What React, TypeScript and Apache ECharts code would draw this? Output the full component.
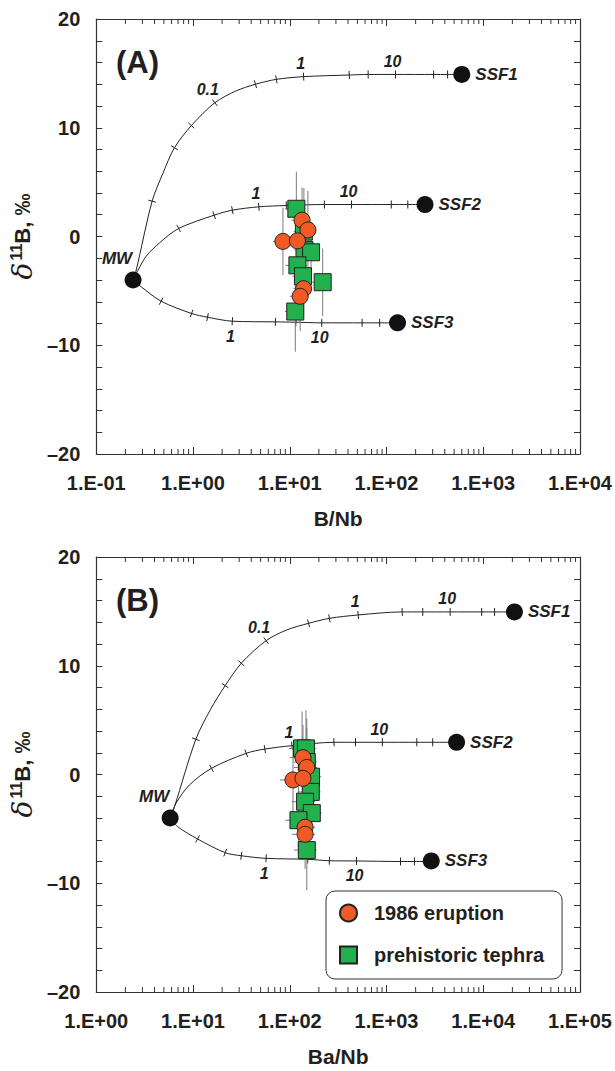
import React, { useEffect, useRef } from "react";
import * as echarts from "echarts";

const FONT = '"Liberation Sans", Arial, Helvetica, sans-serif';
const INK = "#231f20";
const ORANGE = "#f15a24";
const GREEN = "#22b14c";
const ERR = "#7a7a7a";

// ---------- Panel A : B/Nb ----------
const A_MW: number[] = [0.24, -4];
const A_SSF: number[][] = [[600, 14.9], [250, 2.94], [130, -7.94]];
const A_CURVE1: number[][] = [[0.24, -4], [0.257, -3.2], [0.378, 3.25], [0.488, 5.8], [0.643, 8.16], [0.961, 10.2], [1.68, 12.3], [2.76, 13.37], [4.42, 14.0], [7.27, 14.45], [13.9, 14.7], [41.2, 14.85], [64.6, 14.9], [124, 14.9], [307, 14.9], [428, 14.9], [600, 14.9]];
const A_TICKS1: number[] = [2, 4, 5, 6, 8, 9, 10, 11, 12, 13, 14, 15];
const A_LABELS1: string[] = ["", "", "", "0.1", "", "", "1", "", "", "10", "", ""];
const A_CURVE2: number[][] = [[0.24, -4], [0.27, -3.1], [0.328, -1.81], [0.451, -0.58], [0.711, 0.74], [1.654, 1.96], [2.55, 2.42], [4.79, 2.73], [9.21, 2.85], [22.8, 2.94], [43.5, 2.94], [112, 2.94], [166, 2.94], [250, 2.94]];
const A_TICKS2: number[] = [4, 5, 6, 7, 8, 9, 10, 11, 12];
const A_LABELS2: string[] = ["", "", "", "1", "", "", "10", "", ""];
const A_CURVE3: number[][] = [[0.24, -4], [0.292, -4.63], [0.468, -5.95], [0.967, -7.08], [1.413, -7.42], [2.55, -7.79], [7.1, -7.85], [11.58, -7.88], [21.4, -7.94], [56, -7.94], [84.9, -7.94], [130, -7.94]];
const A_TICKS3: number[] = [2, 3, 4, 5, 6, 7, 8, 9, 10];
const A_LABELS3: string[] = ["", "", "", "1", "", "", "10", "", ""];
// [x, y, xErr, yErr]
const A_1986: number[][] = [[13.4, 1.5, 3.0, 3.0], [15.4, 0.6, 3.2, 3.6], [8.5, -0.45, 1.8, 3.1], [12.0, -0.4, 2.6, 2.0], [13.9, -4.8, 3.0, 2.5], [12.8, -5.5, 2.8, 3.2]];
const A_PREHIST: number[][] = [[11.7, 2.55, 2.8, 3.4], [14.0, 0.45, 3.0, 4.0], [14.2, -1.25, 3.0, 2.0], [16.6, -1.45, 3.5, 2.0], [12.0, -2.65, 3.0, 2.2], [13.7, -3.65, 3.0, 2.0], [21.9, -4.2, 5.0, 3.1], [11.4, -6.9, 2.5, 3.7]];

// ---------- Panel B : Ba/Nb ----------
const B_MW: number[] = [5.8, -4];
const B_SSF: number[][] = [[21000, 14.95], [5300, 2.96], [2900, -7.95]];
const B_CURVE1: number[][] = [[5.8, -4], [6.43, -2.96], [10.7, 3.24], [15.2, 6.0], [21.5, 8.17], [31.55, 10.23], [56.96, 12.31], [93.5, 13.3], [156.4, 13.9], [256.8, 14.36], [509.9, 14.67], [1453, 14.95], [2370, 14.95], [4550, 14.95], [9630, 14.95], [13090, 14.95], [21000, 14.95]];
const B_TICKS1: number[] = [2, 4, 5, 6, 8, 9, 10, 11, 12, 13, 14, 15];
const B_LABELS1: string[] = ["", "", "", "0.1", "", "", "1", "", "", "10", "", ""];
const B_CURVE2: number[][] = [[5.8, -4], [6.67, -2.65], [9.16, -0.97], [15.52, 0.57], [35.5, 1.95], [55.25, 2.34], [105.3, 2.65], [286.3, 2.96], [478, 2.96], [906, 2.96], [2056, 2.96], [3002, 2.96], [5300, 2.96]];
const B_TICKS2: number[] = [3, 4, 5, 6, 7, 8, 9, 10, 11];
const B_LABELS2: string[] = ["", "", "", "1", "", "", "10", "", ""];
const B_CURVE3: number[][] = [[5.8, -4], [6.95, -4.8], [11.15, -5.93], [21.5, -7.19], [31.55, -7.47], [56.96, -7.71], [153.8, -7.8], [256.8, -7.93], [489.8, -7.95], [1396, -8], [1943, -8], [2900, -8]];
const B_TICKS3: number[] = [2, 3, 4, 5, 6, 7, 8, 9, 10];
const B_LABELS3: string[] = ["", "", "", "1", "", "", "10", "", ""];
const B_1986: number[][] = [[137, 1.55, 37, 3.0], [150, 0.65, 40, 3.6], [108, -0.5, 29, 3.1], [137, -0.35, 37, 2.0], [144, -4.85, 39, 2.5], [144, -5.5, 39, 3.2]];
const B_PREHIST: number[][] = [[134, 2.4, 36, 3.4], [147, 2.4, 40, 3.5], [150, 1.15, 40, 4.0], [166, -0.2, 45, 2.0], [165, -1.6, 44, 2.0], [144, -2.5, 39, 2.2], [169, -3.55, 45, 2.0], [123, -4.2, 33, 3.1], [150, -6.95, 40, 3.7]];

const END_NAMES: string[] = ["MW", "SSF1", "SSF2", "SSF3"];
const MINOR_STEPS: number[] = [2, 3, 4, 5, 6, 7, 8, 9];
const A_DECADES: number[] = [0.1, 1, 10, 100, 1000];
const B_DECADES: number[] = [1, 10, 100, 1000, 10000];
const Y_MIN = -20;
const Y_MAX = 20;

const LEGEND_1986 = "1986 eruption";
const LEGEND_PRE = "prehistoric tephra";

function expLabel(v: number) {
  const e = Math.round(Math.log10(v));
  const s = e < 0 ? "-" : "+";
  const a = Math.abs(e);
  return "1.E" + s + (a < 10 ? "0" + a : "" + a);
}

function curveLine(curve: number[][], ax: number) {
  return {
    type: "line", xAxisIndex: ax, yAxisIndex: ax, data: curve, showSymbol: false, symbol: "none",
    smooth: 0.3, lineStyle: { color: "#222", width: 1 }, z: 2, silent: true,
  };
}

function curveTicks(curve: number[][], ticks: number[], labels: string[], ax: number, below: boolean) {
  return {
    type: "custom", xAxisIndex: ax, yAxisIndex: ax, z: 3, silent: true, clip: false,
    data: ticks.map((i) => curve[i]),
    renderItem: (params: any, api: any) => {
      const idx = ticks[params.dataIndex];
      const p = api.coord([api.value(0), api.value(1)]);
      const a = api.coord(curve[Math.max(0, idx - 1)]);
      const b = api.coord(curve[Math.min(curve.length - 1, idx + 1)]);
      const dx = b[0] - a[0];
      const dy = b[1] - a[1];
      const len = Math.hypot(dx, dy) || 1;
      const nx = -dy / len;
      const ny = dx / len;
      const h = 4;
      const children: any[] = [{
        type: "line",
        shape: { x1: p[0] - nx * h, y1: p[1] - ny * h, x2: p[0] + nx * h, y2: p[1] + ny * h },
        style: { stroke: "#222", lineWidth: 1 },
      }];
      const lab = labels[params.dataIndex];
      if (lab) {
        let off = below ? [-2, 15] : [-3, -13];
        if (lab === "0.1") off = [-7, -13];
        children.push({
          type: "text", x: p[0] + off[0], y: p[1] + off[1],
          style: { text: lab, fontFamily: FONT, fontSize: 16, fontWeight: "bold", fontStyle: "italic", fill: INK, align: "center", verticalAlign: "middle" },
        });
      }
      return { type: "group", children };
    },
  };
}

function minorAxisTicks(decades: number[], ax: number) {
  const vals: number[][] = [];
  decades.forEach((d) => MINOR_STEPS.forEach((s) => vals.push([s * d])));
  return {
    type: "custom", xAxisIndex: ax, yAxisIndex: ax, z: 1, silent: true, clip: false,
    data: vals,
    renderItem: (params: any, api: any) => {
      const x = api.value(0);
      const pb = api.coord([x, Y_MIN]);
      const pt = api.coord([x, Y_MAX]);
      const st = { stroke: "#333", lineWidth: 1 };
      return {
        type: "group",
        children: [
          { type: "line", shape: { x1: pb[0], y1: pb[1], x2: pb[0], y2: pb[1] - 5 }, style: st },
          { type: "line", shape: { x1: pt[0], y1: pt[1], x2: pt[0], y2: pt[1] + 5 }, style: st },
        ],
      };
    },
  };
}

function errorBars(pts: number[][], ax: number) {
  return {
    type: "custom", xAxisIndex: ax, yAxisIndex: ax, z: 3, silent: true,
    data: pts,
    renderItem: (params: any, api: any) => {
      const x = api.value(0), y = api.value(1), xe = api.value(2), ye = api.value(3);
      const l = api.coord([x - xe, y]);
      const r = api.coord([x + xe, y]);
      const t = api.coord([x, y + ye]);
      const b = api.coord([x, y - ye]);
      const st = { stroke: ERR, lineWidth: 1 };
      return {
        type: "group",
        children: [
          { type: "line", shape: { x1: l[0], y1: l[1], x2: r[0], y2: r[1] }, style: st },
          { type: "line", shape: { x1: t[0], y1: t[1], x2: b[0], y2: b[1] }, style: st },
        ],
      };
    },
  };
}

function samples(name: string, pts: number[][], ax: number, square: boolean) {
  return {
    type: "scatter", name, xAxisIndex: ax, yAxisIndex: ax, z: square ? 4 : 5,
    symbol: square ? "rect" : "circle", symbolSize: square ? 17 : 16,
    data: pts.map((p) => [p[0], p[1]]),
    itemStyle: { color: square ? GREEN : ORANGE, borderColor: "#222", borderWidth: 1, opacity: 1 },
  };
}

function endMembers(mw: number[], ssf: number[][], ax: number) {
  const pts = [mw, ...ssf];
  const base = { show: true, formatter: (p: any) => p.name, fontFamily: FONT, fontSize: 17, fontWeight: "bold", fontStyle: "italic", color: INK };
  return {
    type: "scatter", xAxisIndex: ax, yAxisIndex: ax, z: 6, symbol: "circle", symbolSize: 17, silent: true,
    itemStyle: { color: "#111", opacity: 1 },
    data: pts.map((p, i) => ({
      value: p, name: END_NAMES[i],
      label: i === 0
        ? { ...base, position: "top", distance: 5, offset: [-16, 0] }
        : { ...base, position: "right", distance: 5 },
    })),
    label: base,
  };
}

function xAxes(min: number, max: number, grid: number, name: string) {
  const line = { show: true, onZero: false, lineStyle: { color: "#333", width: 1.2 } };
  return [
    {
      type: "log", logBase: 10, gridIndex: grid, min, max, splitNumber: 5, position: "bottom",
      axisLine: line, axisTick: { show: true, inside: true, length: 7, lineStyle: { color: "#333" } },
      splitLine: { show: false },
      axisLabel: { formatter: expLabel, fontFamily: FONT, fontSize: 20, fontWeight: "bold", color: INK, margin: 19, showMinLabel: true, showMaxLabel: true },
      name, nameLocation: "middle", nameGap: 54,
      nameTextStyle: { fontFamily: FONT, fontSize: 21, fontWeight: "bold", color: INK },
    },
    {
      type: "log", logBase: 10, gridIndex: grid, min, max, splitNumber: 5, position: "top",
      axisLine: line, axisTick: { show: true, inside: true, length: 7, lineStyle: { color: "#333" } },
      splitLine: { show: false }, axisLabel: { show: false },
    },
  ];
}

function yAxes(grid: number) {
  const line = { show: true, onZero: false, lineStyle: { color: "#333", width: 1.2 } };
  const tick = { show: true, inside: true, length: 6, lineStyle: { color: "#333" } };
  const minor = { show: true, splitNumber: 5, length: 6, lineStyle: { color: "#333" } };
  return [
    {
      type: "value", gridIndex: grid, min: Y_MIN, max: Y_MAX, interval: 10, position: "left",
      axisLine: line, axisTick: tick, minorTick: minor, splitLine: { show: false }, minorSplitLine: { show: false },
      axisLabel: {
        formatter: (v: number) => (v < 0 ? "\u2013" + Math.abs(v) : "" + v),
        fontFamily: FONT, fontSize: 20, fontWeight: "bold", color: INK, margin: 16,
      },
      name: "{d|\u03b4}{s|11}{b|B, \u2030}", nameLocation: "middle", nameRotate: 90, nameGap: 59,
      nameTextStyle: {
        color: INK,
        rich: {
          d: { fontFamily: '"DejaVu Serif", serif', fontStyle: "italic", fontSize: 28, color: INK, padding: [0, 2, 0, 0] },
          s: { fontFamily: FONT, fontSize: 16, fontWeight: "bold", color: INK, verticalAlign: "top", padding: [0, 0, 11, 0] },
          b: { fontFamily: FONT, fontSize: 22, fontWeight: "bold", color: INK },
        },
      },
    },
    {
      type: "value", gridIndex: grid, min: Y_MIN, max: Y_MAX, interval: 10, position: "right",
      axisLine: line, axisTick: tick, minorTick: minor, splitLine: { show: false }, axisLabel: { show: false },
    },
  ];
}

export default function App() {
  const ref = useRef<HTMLDivElement>(null);
  useEffect(() => {
    if (!ref.current) return;
    const chart = echarts.init(ref.current, undefined, { renderer: "svg" });
    const option: any = {
      animation: false,
      backgroundColor: "#ffffff",
      title: [
        { text: "(A)", left: 111, top: 42, textStyle: { fontFamily: FONT, fontSize: 31, fontWeight: "bold", color: INK } },
        { text: "(B)", left: 111, top: 580, textStyle: { fontFamily: FONT, fontSize: 31, fontWeight: "bold", color: INK } },
      ],
      grid: [
        { left: 93, top: 19, width: 487, height: 435 },
        { left: 93, top: 557, width: 487, height: 435 },
      ],
      xAxis: [...xAxes(0.1, 1e4, 0, "B/Nb"), ...xAxes(1, 1e5, 1, "Ba/Nb")],
      yAxis: [...yAxes(0), ...yAxes(1)],
      legend: {
        data: [LEGEND_1986, LEGEND_PRE], orient: "vertical", left: 326, top: 891,
        itemWidth: 17, itemHeight: 17, itemGap: 22, padding: [12, 18, 14, 13],
        borderColor: "#333", borderWidth: 1, borderRadius: 9, backgroundColor: "#fff",
        selectedMode: false,
        textStyle: { fontFamily: FONT, fontSize: 20, fontWeight: "bold", color: INK, padding: [0, 0, 0, 12] },
      },
      series: [
        minorAxisTicks(A_DECADES, 0),
        curveLine(A_CURVE1, 0), curveLine(A_CURVE2, 0), curveLine(A_CURVE3, 0),
        curveTicks(A_CURVE1, A_TICKS1, A_LABELS1, 0, false),
        curveTicks(A_CURVE2, A_TICKS2, A_LABELS2, 0, false),
        curveTicks(A_CURVE3, A_TICKS3, A_LABELS3, 0, true),
        errorBars(A_PREHIST, 0), errorBars(A_1986, 0),
        samples(LEGEND_PRE, A_PREHIST, 0, true), samples(LEGEND_1986, A_1986, 0, false),
        endMembers(A_MW, A_SSF, 0),
        minorAxisTicks(B_DECADES, 2),
        curveLine(B_CURVE1, 2), curveLine(B_CURVE2, 2), curveLine(B_CURVE3, 2),
        curveTicks(B_CURVE1, B_TICKS1, B_LABELS1, 2, false),
        curveTicks(B_CURVE2, B_TICKS2, B_LABELS2, 2, false),
        curveTicks(B_CURVE3, B_TICKS3, B_LABELS3, 2, true),
        errorBars(B_PREHIST, 2), errorBars(B_1986, 2),
        samples(LEGEND_PRE, B_PREHIST, 2, true), samples(LEGEND_1986, B_1986, 2, false),
        endMembers(B_MW, B_SSF, 2),
      ],
    };
    chart.setOption(option);
    return () => chart.dispose();
  }, []);
  return <div ref={ref} style={{ position: "absolute", left: 0, top: 0, width: 615, height: 1071 }} />;
}
